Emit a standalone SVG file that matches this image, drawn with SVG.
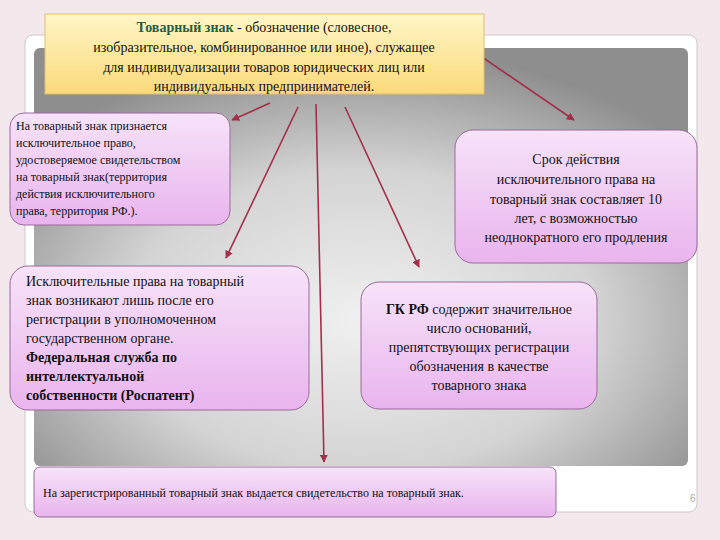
<svg xmlns="http://www.w3.org/2000/svg" width="720" height="540" viewBox="0 0 720 540">
<style>
.t{font-family:'Liberation Serif','DejaVu Serif',serif;fill:#111}
.box{fill:url(#pk);stroke:#9a6a9a;stroke-width:1}
.c{stroke:#a2304c;stroke-width:1.6;fill:none;marker-end:url(#ah)}
</style>
<defs>
<linearGradient id="pk" x1="0" y1="0" x2="0" y2="1"><stop offset="0" stop-color="#f7e3f9"/><stop offset="1" stop-color="#e9b4ee"/></linearGradient>
<linearGradient id="yl" x1="0" y1="0" x2="0" y2="1"><stop offset="0" stop-color="#fff6c8"/><stop offset="1" stop-color="#fbd979"/></linearGradient>
<radialGradient id="gr" cx="0.5" cy="0.65" r="0.65"><stop offset="0" stop-color="#f0f0f0"/><stop offset="0.55" stop-color="#d4d4d4"/><stop offset="1" stop-color="#8e8e8e"/></radialGradient>
<marker id="ah" viewBox="0 0 10 10" refX="9" refY="5" markerWidth="5" markerHeight="5" orient="auto"><path d="M0,0L10,5L0,10z" fill="#a2304c"/></marker>
</defs>
<rect width="720" height="540" fill="#f3e8eb"/>
<rect x="25" y="35" width="672" height="477" rx="8" fill="#fff" stroke="#d0c8cc"/>
<rect x="34" y="48" width="654" height="418" rx="6" fill="url(#gr)"/>
<text x="690" y="502" font-family="Liberation Sans,sans-serif" font-size="10" fill="#aaa">6</text>
<g id="connectors">
<path class="c" d="M270,103L232,120"/>
<path class="c" d="M298,107L226,258"/>
<path class="c" d="M316,104L324,462"/>
<path class="c" d="M345,107L419,267"/>
<path class="c" d="M482,57L574,120"/>
</g>
<g id="top">
<rect x="45" y="14" width="439" height="80" fill="url(#yl)" stroke="#e0c070"/>
<text class="t" font-size="14" text-anchor="middle"><tspan x="264" y="32"><tspan font-weight="bold" fill="#1f5e4a">Товарный знак</tspan> - обозначение (словесное,</tspan><tspan x="264" y="52">изобразительное, комбинированное или иное), служащее</tspan><tspan x="264" y="72">для индивидуализации товаров юридических лиц или</tspan><tspan x="264" y="91">индивидуальных предпринимателей.</tspan></text>
</g>
<g id="n1">
<rect class="box" x="10" y="113" width="220" height="112" rx="14"/>
<text class="t" font-size="12"><tspan x="16" y="130">На товарный знак признается</tspan><tspan x="16" y="147">исключительное право,</tspan><tspan x="16" y="164">удостоверяемое свидетельством</tspan><tspan x="16" y="181">на товарный знак(территория</tspan><tspan x="16" y="198">действия исключительного</tspan><tspan x="16" y="215">права, территория РФ.).</tspan></text>
</g>
<g id="n2">
<rect class="box" x="455" y="130" width="242" height="133" rx="18"/>
<text class="t" font-size="14" text-anchor="middle"><tspan x="576" y="164">Срок действия</tspan><tspan x="576" y="184">исключительного права на</tspan><tspan x="576" y="204">товарный знак составляет 10</tspan><tspan x="576" y="223">лет, с возможностью</tspan><tspan x="576" y="242">неоднократного его продления</tspan></text>
</g>
<g id="n3">
<rect class="box" x="10" y="266" width="299" height="144" rx="18"/>
<text class="t" font-size="14"><tspan x="26" y="286">Исключительные права на товарный</tspan><tspan x="26" y="305">знак возникают лишь после его</tspan><tspan x="26" y="324">регистрации в уполномоченном</tspan><tspan x="26" y="343">государственном органе.</tspan><tspan x="26" y="362" font-weight="bold">Федеральная служба по</tspan><tspan x="26" y="381" font-weight="bold">интеллектуальной</tspan><tspan x="26" y="400" font-weight="bold">собственности (Роспатент)</tspan></text>
</g>
<g id="n4">
<rect class="box" x="361" y="282" width="236" height="127" rx="18"/>
<text class="t" font-size="14" text-anchor="middle"><tspan x="479" y="314"><tspan font-weight="bold">ГК РФ</tspan> содержит значительное</tspan><tspan x="479" y="333">число оснований,</tspan><tspan x="479" y="352">препятствующих регистрации</tspan><tspan x="479" y="371">обозначения в качестве</tspan><tspan x="479" y="390">товарного знака</tspan></text>
</g>
<g id="n5">
<rect class="box" x="34" y="467" width="522" height="50" rx="6"/>
<text class="t" font-size="12" x="43" y="497">На зарегистрированный товарный знак выдается свидетельство на товарный знак.</text>
</g>
</svg>
